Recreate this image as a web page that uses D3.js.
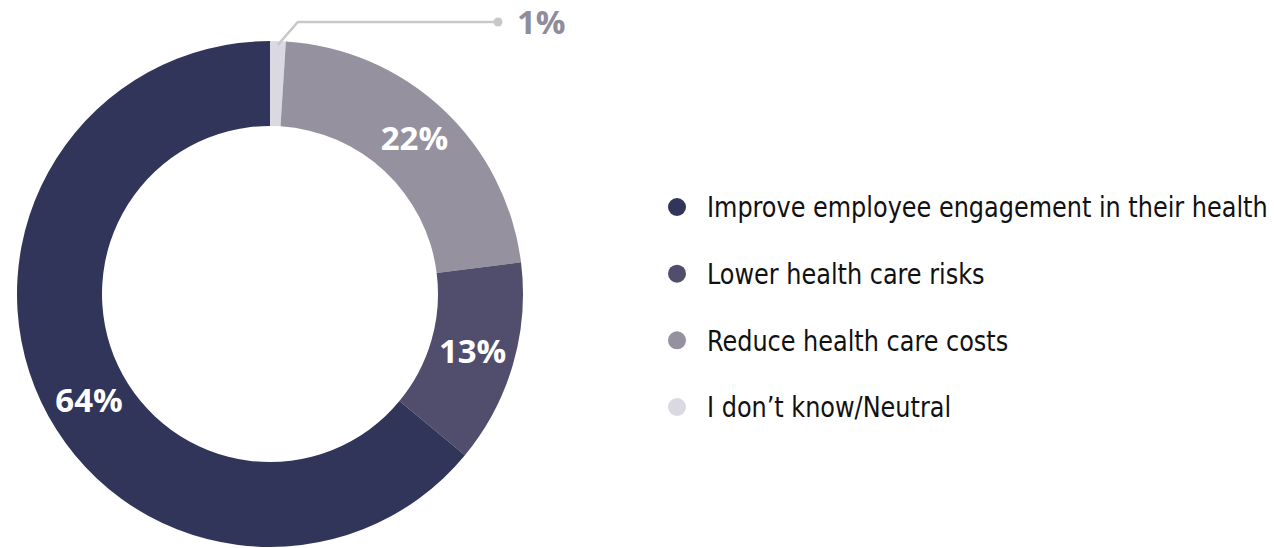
<!DOCTYPE html>
<html>
<head>
<meta charset="utf-8">
<script src="https://cdn.jsdelivr.net/npm/d3@7/dist/d3.min.js"></script>
<style>
  html, body { margin: 0; padding: 0; background: #fff; }
  svg { display: block; }
</style>
</head>
<body>
<svg id="chart" width="1274" height="548"></svg>
<script>
// Survey answers, in drawing order clockwise from 12 o'clock
const categories = ["I don\u2019t know/Neutral", "Reduce health care costs", "Lower health care risks", "Improve employee engagement in their health"];
const values = [1, 22, 13, 64];
const sliceColors = ["#dad8e0", "#95919f", "#514d6c", "#32355a"];

// Legend order (top to bottom)
const legendOrder = ["Improve employee engagement in their health", "Lower health care risks", "Reduce health care costs", "I don\u2019t know/Neutral"];

const svg = d3.select("#chart");
const cx = 270, cy = 294;
const outerR = 253, innerR = 168, labelR = 211;

const pie = d3.pie().sort(null).value(d => d.value);
const arcs = pie(categories.map((c, i) => ({ name: c, value: values[i], color: sliceColors[i] })));

const arc = d3.arc().innerRadius(innerR).outerRadius(outerR);
const g = svg.append("g").attr("transform", `translate(${cx},${cy})`);

g.selectAll("path.slice")
  .data(arcs)
  .join("path")
  .attr("class", "slice")
  .attr("d", arc)
  .attr("fill", d => d.data.color);

// In-slice value labels for the larger slices
const labelFont = "'Open Sans', 'Noto Sans', sans-serif";
const labelNudge = { "Improve employee engagement in their health": -0.1 };
g.selectAll("text.val")
  .data(arcs.filter(d => d.value >= 5))
  .join("text")
  .attr("class", "val")
  .attr("transform", d => {
    const a = (d.startAngle + d.endAngle) / 2 + (labelNudge[d.data.name] || 0);
    return `translate(${labelR * Math.sin(a)},${-labelR * Math.cos(a) - 2})`;
  })
  .attr("text-anchor", "middle")
  .attr("dy", "0.36em")
  .attr("fill", "#fff")
  .attr("font-family", labelFont)
  .attr("font-weight", 700)
  .attr("font-size", 33)
  .text(d => d.value + "%");

// Callout for the smallest slice
const small = arcs.filter(d => d.value < 5)[0];
const sa = (small.startAngle + small.endAngle) / 2;
const p0 = [outerR * 0.985 * Math.sin(sa), -outerR * 0.985 * Math.cos(sa)];
const elbowY = -outerR - 19;
const p1 = [p0[0] + 20, elbowY];
const p2 = [228, elbowY];
g.append("polyline")
  .attr("points", [p0, p1, p2].map(p => p.join(",")).join(" "))
  .attr("fill", "none")
  .attr("stroke", "#c8c8c8")
  .attr("stroke-width", 2.5);
g.append("circle")
  .attr("cx", p2[0]).attr("cy", p2[1]).attr("r", 4.5)
  .attr("fill", "#c8c8c8");
g.append("text")
  .attr("x", p2[0] + 19).attr("y", p2[1])
  .attr("dy", "0.36em")
  .attr("fill", "#8f8c9c")
  .attr("font-family", labelFont)
  .attr("font-weight", 700)
  .attr("font-size", 33)
  .text(small.value + "%");

// Legend
const colorOf = d3.scaleOrdinal().domain(categories).range(sliceColors);
const legendY = d3.scalePoint().domain(legendOrder).range([207, 407]);
const legendTextX = 707, legendTextRight = 1268;
const leg = svg.append("g").attr("class", "legend");
const items = leg.selectAll("g")
  .data(legendOrder)
  .join("g")
  .attr("transform", d => `translate(677,${legendY(d)})`);
items.append("circle").attr("r", 9).attr("fill", d => colorOf(d));
const labels = items.append("g")
  .attr("transform", `translate(${legendTextX - 677},0)`)
  .append("text")
  .attr("dy", "0.36em")
  .attr("fill", "#111")
  .attr("font-family", "'DejaVu Sans Condensed', 'Liberation Sans Narrow', sans-serif")
  .attr("font-stretch", "condensed")
  .attr("font-size", 29)
  .text(d => d);

// Condense the legend text horizontally so the longest entry fits the space
const widest = d3.max(labels.nodes(), n => n.getComputedTextLength());
const squeeze = Math.min(1, (legendTextRight - legendTextX) / widest);
labels.attr("transform", `scale(${squeeze},1)`);
</script>
</body>
</html>
